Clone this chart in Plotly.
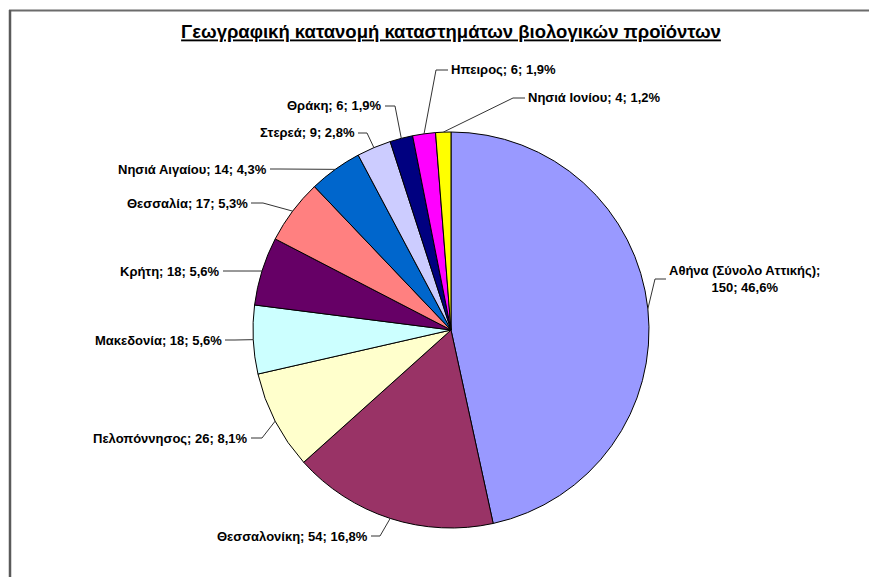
import numpy as np
import plotly.graph_objects as go

# Data, in the order the slices run clockwise from 12 o'clock
regions = [
    "Αθήνα (Σύνολο Αττικής)", "Θεσσαλονίκη", "Πελοπόννησος", "Μακεδονία",
    "Κρήτη", "Θεσσαλία", "Νησιά Αιγαίου", "Στερεά", "Θράκη", "Ηπειρος",
    "Νησιά Ιονίου",
]
stores = [150, 54, 26, 18, 18, 17, 14, 9, 6, 6, 4]
colors = [
    "#9999FF", "#993366", "#FFFFCC", "#CCFFFF", "#660066", "#FF8080",
    "#0066CC", "#CCCCFF", "#000080", "#FF00FF", "#FFFF00",
]
title = "Γεωγραφική κατανομή καταστημάτων βιολογικών προϊόντων"

OFF = 8  # the page body margin shifts the figure by this much
W, H = 877 - 2 * OFF, 585 - 2 * OFF
# pie geometry in window pixels
cx, cy, r = 451, 330, 198

# label placement: text edge x, text y, elbow x, anchor side
label_pos = [
    (668, 279, 655, "left"),
    (369, 536, 380, "right"),
    (249, 438, 262, "right"),
    (223, 340, 235, "right"),
    (221, 271, 233, "right"),
    (249, 203, 263, "right"),
    (268, 169, 280, "right"),
    (356, 133, 367, "right"),
    (383, 106, 395, "right"),
    (450, 70, 436, "left"),
    (527, 98, 513, "left"),
]


def px(x):
    return (x - OFF) / W


def py(y):
    return 1 - (y - OFF) / H


fig = go.Figure(go.Pie(
    labels=regions, values=stores, sort=False, direction="clockwise",
    rotation=0, textinfo="none", hoverinfo="label+value+percent",
    marker=dict(colors=colors, line=dict(color="#000000", width=1)),
    domain=dict(x=[px(cx - r), px(cx + r)], y=[py(cy + r), py(cy - r)]),
    showlegend=False,
))

total = sum(stores)
vals = np.array(stores, dtype=float)
mids = (np.cumsum(vals) - vals / 2) / total * 2 * np.pi

font = dict(family="Liberation Sans, Arial, sans-serif", size=13, color="#000000")
shapes = []
annotations = []
for name, v, ang, (tx, ty, ex, side) in zip(regions, stores, mids, label_pos):
    pct = f"{v / total * 100:.1f}".replace(".", ",")
    if v == max(stores):
        text = f"<b>{name};<br>{v}; {pct}%</b>"
    else:
        text = f"<b>{name}; {v}; {pct}%</b>"
    annotations.append(dict(
        x=px(tx), y=py(ty), xref="paper", yref="paper", text=text,
        showarrow=False, xanchor=side, yanchor="middle", align="center",
        font=font, borderpad=0,
    ))
    # leader line: text -> elbow -> slice edge
    x0 = tx + (2 if side == "right" else -2)
    ux = cx + r * np.sin(ang)
    uy = cy - r * np.cos(ang)
    shapes.append(dict(
        type="path", xref="paper", yref="paper",
        path=f"M {px(x0)} {py(ty)} L {px(ex)} {py(ty)} L {px(ux)} {py(uy)}",
        line=dict(color="#333333", width=1),
    ))

# frame lines at top and left
shapes.append(dict(type="line", xref="paper", yref="paper",
                   x0=px(9), x1=1, y0=py(10.5), y1=py(10.5),
                   line=dict(color="#6b6b6b", width=2)))
shapes.append(dict(type="path", xref="paper", yref="paper",
                   path=f"M {px(10)} {py(10)} L {px(10)} 0",
                   line=dict(color="#5a5a5a", width=2.5)))

fig.update_layout(
    width=W, height=H,
    margin=dict(t=0, r=0, b=0, l=0),
    paper_bgcolor="#ffffff",
    plot_bgcolor="#ffffff",
    title=dict(
        text=f"<b>{title}</b>",
        x=px(451), xanchor="center", y=py(32), yanchor="middle",
        font=dict(family="Liberation Sans, Arial, sans-serif", size=18.5,
                  color="#000000", lineposition="under"),
    ),
    shapes=shapes,
    annotations=annotations,
)

fig.write_html("out.html")
